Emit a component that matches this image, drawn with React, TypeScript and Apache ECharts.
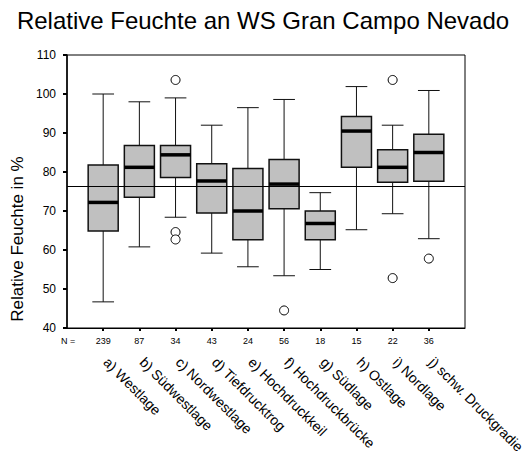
import React, { useEffect, useRef } from "react";
import * as echarts from "echarts";

const categories = [
  "a) Westlage",
  "b) Südwestlage",
  "c) Nordwestlage",
  "d) Tiefdrucktrog",
  "e) Hochdruckkeil",
  "f) Hochdruckbrücke",
  "g) Südlage",
  "h) Ostlage",
  "i) Nordlage",
  "j) schw. Druckgradie",
];
const nCounts = [239, 87, 34, 43, 24, 56, 18, 15, 22, 36];
const whiskerLow = [46.7, 60.8, 68.4, 59.2, 55.7, 53.4, 55.0, 65.2, 69.3, 62.9];
const q1 = [64.9, 73.5, 78.6, 69.5, 62.6, 70.6, 62.6, 81.2, 77.4, 77.6];
const medians = [72.2, 81.2, 84.4, 77.7, 70.0, 76.9, 66.8, 90.5, 81.2, 85.0];
const q3 = [81.8, 86.8, 86.8, 82.1, 80.9, 83.2, 70.0, 94.2, 85.7, 89.7];
const whiskerHigh = [100.0, 98.0, 99.0, 92.0, 96.5, 98.6, 74.7, 101.9, 92.0, 100.9];
// [category index (0-based), value]
const outliers: [number, number][] = [
  [2, 103.6],
  [2, 64.6],
  [2, 62.7],
  [5, 44.5],
  [8, 103.6],
  [8, 52.8],
  [9, 57.8],
];
const referenceValue = 76.4;
const yMin = 40;
const yMax = 110;
const yInterval = 10;

const FONT = "'Liberation Sans', Arial, sans-serif";

export default function App() {
  const ref = useRef<HTMLDivElement>(null);

  useEffect(() => {
    document.body.style.margin = "0";
    if (!ref.current) return;
    const chart = echarts.init(ref.current, undefined, { renderer: "svg" });

    const axisData = [" ", ...categories, "  "];
    const boxData = categories.map((_, i) => [
      i + 1,
      whiskerLow[i],
      q1[i],
      medians[i],
      q3[i],
      whiskerHigh[i],
    ]);
    const outlierData = outliers.map(([ci, v]) => [ci + 1, v]);

    const option: any = {
      animation: false,
      backgroundColor: "#fff",
      textStyle: { fontFamily: FONT },
      title: {
        text: "Relative Feuchte an WS Gran Campo Nevado",
        left: "center",
        top: 8,
        padding: 0,
        textStyle: { fontFamily: FONT, fontSize: 24, fontWeight: "normal", color: "#000" },
      },
      grid: {
        left: 67,
        right: 61,
        top: 55,
        bottom: 123,
        show: true,
        borderColor: "#000",
        borderWidth: 1,
        containLabel: false,
        outerBoundsMode: "none",
      },
      graphic: [
        {
          type: "text",
          x: 17,
          y: 239,
          rotation: Math.PI / 2,
          style: {
            text: "Relative Feuchte in %",
            fontSize: 17,
            fontFamily: FONT,
            fill: "#000",
            textAlign: "center",
            textVerticalAlign: "middle",
          },
        },
        {
          type: "text",
          x: 61,
          y: 341,
          style: {
            text: "N =",
            fontSize: 9,
            fontFamily: FONT,
            fill: "#000",
            textAlign: "left",
            textVerticalAlign: "middle",
          },
        },
      ],
      xAxis: [
        {
          type: "category",
          data: axisData,
          boundaryGap: false,
          position: "bottom",
          axisLine: { show: true, lineStyle: { color: "#000", width: 1 } },
          axisTick: {
            show: true,
            length: 3,
            lineStyle: { color: "#000", width: 2 },
            interval: (index: number) => index >= 1 && index <= categories.length,
          },
          axisLabel: {
            interval: 0,
            margin: 8,
            fontSize: 9,
            color: "#000",
            fontFamily: FONT,
            formatter: (_v: string, index: number) =>
              index >= 1 && index <= categories.length ? String(nCounts[index - 1]) : "",
          },
          splitLine: { show: false },
        },
        {
          type: "category",
          data: axisData,
          boundaryGap: false,
          position: "bottom",
          axisLine: { show: false },
          axisTick: { show: false },
          axisLabel: {
            interval: 0,
            rotate: -45,
            margin: 29,
            padding: [0, 0, 0, 4],
            fontSize: 14,
            color: "#000",
            fontFamily: FONT,
          },
          splitLine: { show: false },
        },
      ],
      yAxis: {
        type: "value",
        min: yMin,
        max: yMax,
        interval: yInterval,
        axisLine: { show: true, lineStyle: { color: "#000", width: 1.5 } },
        axisTick: { show: true, length: 4, lineStyle: { color: "#000", width: 2 } },
        axisLabel: { margin: 11, fontSize: 12, color: "#000", fontFamily: FONT },
        splitLine: { show: false },
      },
      series: [
        {
          type: "custom",
          xAxisIndex: 0,
          yAxisIndex: 0,
          data: boxData,
          encode: { x: 0, y: [1, 2, 3, 4, 5] },
          renderItem: (_params: any, api: any) => {
            const xi = api.value(0);
            const low = api.coord([xi, api.value(1)]);
            const pq1 = api.coord([xi, api.value(2)]);
            const med = api.coord([xi, api.value(3)]);
            const pq3 = api.coord([xi, api.value(4)]);
            const high = api.coord([xi, api.value(5)]);
            const band = api.size([1, 0])[0];
            const bw = band * 0.83;
            const cw = band * 0.6;
            const cx = low[0];
            const lineStyle = { stroke: "#111", lineWidth: 1 };
            return {
              type: "group",
              children: [
                { type: "line", shape: { x1: cx, y1: high[1], x2: cx, y2: pq3[1] }, style: lineStyle },
                { type: "line", shape: { x1: cx, y1: pq1[1], x2: cx, y2: low[1] }, style: lineStyle },
                { type: "line", shape: { x1: cx - cw / 2, y1: high[1], x2: cx + cw / 2, y2: high[1] }, style: lineStyle },
                { type: "line", shape: { x1: cx - cw / 2, y1: low[1], x2: cx + cw / 2, y2: low[1] }, style: lineStyle },
                {
                  type: "rect",
                  shape: { x: cx - bw / 2, y: pq3[1], width: bw, height: pq1[1] - pq3[1] },
                  style: { fill: "#c0c0c0", stroke: "#111", lineWidth: 1.5 },
                },
                {
                  type: "line",
                  shape: { x1: cx - bw / 2, y1: med[1], x2: cx + bw / 2, y2: med[1] },
                  style: { stroke: "#000", lineWidth: 3.5 },
                },
              ],
            };
          },
          markLine: {
            silent: true,
            symbol: "none",
            label: { show: false },
            lineStyle: { color: "#000", width: 1, type: "solid" },
            data: [{ yAxis: referenceValue }],
          },
          z: 2,
        },
        {
          type: "scatter",
          xAxisIndex: 0,
          yAxisIndex: 0,
          data: outlierData,
          symbol: "circle",
          symbolSize: 9,
          itemStyle: { color: "#fff", borderColor: "#000", borderWidth: 1, opacity: 1 },
          z: 3,
        },
      ],
    };

    chart.setOption(option);
    return () => chart.dispose();
  }, []);

  return <div ref={ref} style={{ width: 526, height: 451 }} />;
}
